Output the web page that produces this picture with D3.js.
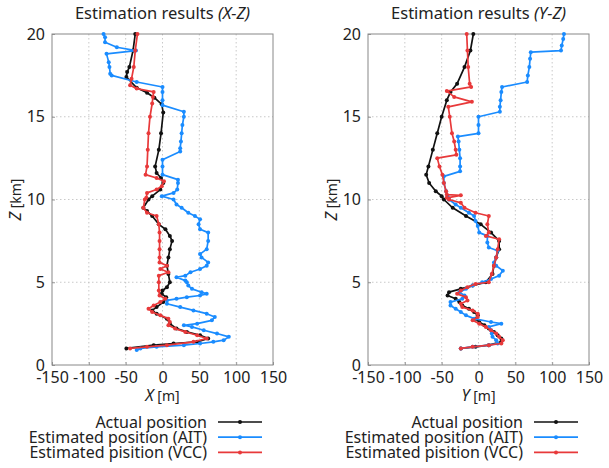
<!DOCTYPE html>
<html><head><meta charset="utf-8">
<script src="https://cdn.jsdelivr.net/npm/d3@7"></script>
<style>
html,body{margin:0;padding:0;background:#fff;}
svg{display:block;font-family:"Noto Sans",sans-serif;}
</style></head>
<body><svg id="c" width="609" height="468"></svg>
<script>
// ---- data: [Z km, horizontal position m] ----
const actualXZ = [[20,-37],[19,-40],[18,-45],[17.7,-48],[17.4,-49],[16.75,-35],[16.45,-21],[16.15,-11],[15.75,-1],[15.25,1],[14,-2],[13,-5],[12,-10],[11.6,-8],[11.3,-2],[11,1],[10.6,-3],[10.2,-14],[10,-19],[9.5,-26],[9.3,-21],[9,-14],[8.5,-5],[8.2,4],[7.8,10],[7.5,13],[7,10],[6.5,8],[6,6],[5.5,8],[5,10],[4.7,6],[4.5,0],[4.3,-1],[4.1,5],[3.8,1],[3.5,-8],[3.3,-14],[3.1,-8],[2.8,6],[2.5,10],[2.2,19],[2,33],[1.8,51],[1.6,62],[1.4,47],[1.3,15],[1.2,-12],[1,-49]];
const aitXZ = [[20,-80],[19.8,-78],[19.5,-78],[19.2,-62],[19,-36],[18.8,-76],[18.3,-73],[18,-72],[17.6,-71],[17.5,-69],[17.1,-35],[16.8,0],[16.5,0],[16,0],[15.7,0],[15.3,29],[15,29],[14.5,27],[14,26],[13.5,25],[13.1,24],[12.9,24],[12.4,0],[12,0],[11.5,0],[11.2,21],[11,21],[10.6,20],[10.4,15],[10.2,-1],[10,15],[9.7,19],[9.5,26],[9.2,35],[9,44],[8.8,51],[8.5,49],[8.2,51],[8,62],[7.5,62],[7,60],[6.7,51],[6.5,53],[6.2,62],[6,60],[5.8,51],[5.6,38],[5.4,31],[5.3,19],[5.1,31],[5,33],[4.8,35],[4.6,40],[4.4,53],[4.3,60],[4.2,51],[4.1,33],[4,19],[3.9,6],[3.7,6],[3.5,24],[3.3,42],[3.1,60],[2.9,71],[2.7,67],[2.5,47],[2.4,29],[2.3,40],[2.1,56],[1.9,74],[1.7,90],[1.5,83],[1.4,69],[1.3,51],[1.2,29],[1.1,-8],[1,-30],[0.9,-35]];
const vccXZ = [[20,-34],[19,-37],[18,-39],[17.3,-42],[16.9,-44],[16.7,-35],[16.5,-12],[16.2,-13],[15.8,-14],[15,-17],[14,-19],[13,-20],[12,-21],[11.5,-23],[11.3,-8],[11.1,2],[10.8,-1],[10.6,-8],[10.4,-21],[10.1,-22],[10,-24],[9.5,-26],[9.2,-21],[9,-8],[8.5,-5],[8,-4],[7.5,-4],[7,-4],[6.5,-4],[6.2,-4],[6,6],[5.8,-3],[5.6,8],[5.4,-5],[5,-5],[4.5,-5],[4.2,-4],[4,4],[3.8,-3],[3.6,-12],[3.4,-19],[3.2,-14],[3,-3],[2.8,8],[2.6,10],[2.4,8],[2.2,17],[2,31],[1.8,47],[1.6,60],[1.4,42],[1.2,6],[1.1,-21],[1,-44]];
const actualYZ = [[20,-7],[19,-11],[18,-19],[17,-29],[16.5,-38],[16,-43],[15,-50],[14,-56],[13,-62],[12,-68],[11.5,-71],[11,-67],[10.5,-58],[10.2,-50],[10,-47],[9.5,-35],[9,-17],[8.5,3],[8,17],[7.5,28],[7,28],[6.5,24],[6,21],[5.5,19],[5,10],[4.8,-8],[4.6,-24],[4.4,-40],[4.2,-42],[4,-31],[3.8,-26],[3.6,-22],[3.4,-13],[3.2,-6],[3,-1],[2.8,-4],[2.6,1],[2.4,8],[2.2,14],[2,21],[1.8,26],[1.6,31],[1.4,31],[1.2,14],[1.1,-4],[1,-24]];
const aitYZ = [[20,116],[19.7,115],[19.3,113],[19,112],[18.9,71],[18.5,70],[18,69],[17.5,67],[17.1,66],[16.8,32],[16.5,31],[16,30],[15.6,29],[15.3,29],[15,0],[14.5,0],[14,0],[13.8,-28],[13.5,-27],[13,-26],[12.5,-25],[12,-25],[11.7,-25],[11.4,-47],[11,-47],[10.5,-44],[10.2,-42],[10,-40],[9.7,-31],[9.5,-24],[9.2,-13],[9,-6],[8.7,-4],[8.4,-1],[8,1],[7.8,12],[7.4,12],[7.1,14],[6.9,26],[6.5,24],[6.2,21],[6,24],[5.7,33],[5.4,28],[5.2,17],[5,5],[4.8,-8],[4.6,-17],[4.4,-26],[4.2,-19],[4,-22],[3.8,-38],[3.6,-38],[3.4,-31],[3.2,-24],[3,-17],[2.8,-6],[2.6,17],[2.5,31],[2.3,14],[2.1,17],[1.9,18],[1.7,19],[1.5,24],[1.3,26],[1.2,14],[1.1,-8],[1,-24]];
const vccYZ = [[20,-16],[19,-15],[18,-14],[17,-12],[16.8,-10],[16.55,-43],[16.2,-33],[15.9,-9],[15.6,-41],[15,-39],[14,-36],[13.5,-33],[13,-31],[12.7,-30],[12.5,-56],[12,-53],[11.5,-49],[11,-47],[10.5,-44],[10.3,-43],[10.25,-24],[10.1,-43],[10,-40],[9.8,-24],[9.5,-19],[9.2,-4],[9,14],[8.5,12],[8,14],[7.8,10],[7.6,28],[7,26],[6.5,24],[6,21],[5.5,18],[5,14],[4.9,-4],[4.7,-15],[4.5,-24],[4.3,-29],[4.1,-17],[3.9,-15],[3.7,-24],[3.5,-22],[3.3,-8],[3.1,-1],[2.9,-1],[2.7,-8],[2.5,1],[2.3,10],[2.1,17],[1.9,24],[1.7,28],[1.5,33],[1.3,31],[1.2,14],[1.1,-8],[1,-24]];

const xTicks = [-150,-100,-50,0,50,100,150];
const zTicks = [0,5,10,15,20];
const legendLabels = ["Actual position","Estimated position (AIT)","Estimated pisition (VCC)"];
const seriesColors = ["#111111","#1a8cff","#e8393a"];

const panels = [
  {left:52, title:"Estimation results ", titleIt:"(X-Z)", axis:"X", series:[actualXZ,aitXZ,vccXZ]},
  {left:368, title:"Estimation results ", titleIt:"(Y-Z)", axis:"Y", series:[actualYZ,aitYZ,vccYZ]}
];

const svg = d3.select("#c");
const plotTop = 34, plotBottom = 365, pw = 221;
const FS = 16;

panels.forEach(p => {
  const x = d3.scaleLinear().domain([-150,150]).range([p.left, p.left+pw]);
  const y = d3.scaleLinear().domain([0,20]).range([plotBottom, plotTop]);
  const g = svg.append("g");

  // grid
  g.selectAll(".gx").data(xTicks.slice(1,-1)).join("line")
    .attr("x1",d=>x(d)).attr("x2",d=>x(d)).attr("y1",plotTop).attr("y2",plotBottom)
    .attr("stroke","#bbb").attr("stroke-width",0.8).attr("stroke-dasharray","1.5,2.5");
  g.selectAll(".gy").data(zTicks.slice(1,-1)).join("line")
    .attr("x1",p.left).attr("x2",p.left+pw).attr("y1",d=>y(d)).attr("y2",d=>y(d))
    .attr("stroke","#bbb").attr("stroke-width",0.8).attr("stroke-dasharray","1.5,2.5");

  // axes via d3
  const fmt = d => String(d);
  const ax = g.append("g").attr("transform",`translate(0,${plotBottom})`)
    .call(d3.axisBottom(x).tickValues(xTicks).tickFormat(fmt).tickSize(-3).tickPadding(8));
  const ay = g.append("g").attr("transform",`translate(${p.left},0)`)
    .call(d3.axisLeft(y).tickValues(zTicks).tickFormat(fmt).tickSize(-3).tickPadding(7));
  [ax,ay].forEach(a=>{
    a.select(".domain").remove();
    a.selectAll("line").attr("stroke","#999");
    a.selectAll("text").attr("font-size",FS).attr("fill","#222").attr("font-family","'Noto Sans',sans-serif");
  });
  ax.selectAll("text").attr("dy","0.6em");
  // frame
  g.append("rect").attr("x",p.left).attr("y",plotTop).attr("width",pw).attr("height",plotBottom-plotTop)
    .attr("fill","none").attr("stroke","#888").attr("stroke-width",1);

  // series
  const line = d3.line().x(d=>x(d[1])).y(d=>y(d[0]));
  p.series.forEach((s,i)=>{
    g.append("path").datum(s).attr("d",line).attr("fill","none")
      .attr("stroke",seriesColors[i]).attr("stroke-width",1.7).attr("stroke-linejoin","round");
    g.selectAll(null).data(s).join("circle").attr("cx",d=>x(d[1])).attr("cy",d=>y(d[0]))
      .attr("r",2).attr("fill",seriesColors[i]);
  });

  // title
  const cx = p.left + pw/2;
  const t = svg.append("text").attr("x",cx).attr("y",19).attr("text-anchor","middle")
    .attr("font-size",16.5).attr("fill","#222");
  t.append("tspan").text(p.title);
  t.append("tspan").attr("font-style","italic").text(p.titleIt);

  // x label
  const xl = svg.append("text").attr("x",cx).attr("y",401).attr("text-anchor","middle")
    .attr("font-size",FS).attr("fill","#222");
  xl.append("tspan").attr("font-style","italic").text(p.axis);
  xl.append("tspan").attr("font-size",14).text(" [m]");
  // y label
  const yl = svg.append("text").attr("transform",`translate(${p.left-31},${(plotTop+plotBottom)/2}) rotate(-90)`)
    .attr("text-anchor","middle").attr("font-size",FS).attr("fill","#222");
  yl.append("tspan").attr("font-style","italic").text("Z");
  yl.append("tspan").attr("font-size",14).text(" [km]");

  // legend
  const textEnd = p.left + 155, l0 = p.left + 166, l1 = p.left + 210;
  legendLabels.forEach((lab,i)=>{
    const ly = 422 + i*15.2;
    svg.append("text").attr("x",textEnd).attr("y",ly).attr("dy","0.35em").attr("text-anchor","end")
      .attr("font-size",16).attr("fill","#222").text(lab);
    svg.append("line").attr("x1",l0).attr("x2",l1).attr("y1",ly).attr("y2",ly)
      .attr("stroke",seriesColors[i]).attr("stroke-width",1.7);
    svg.append("circle").attr("cx",(l0+l1)/2).attr("cy",ly).attr("r",2).attr("fill",seriesColors[i]);
  });
});
</script></body></html>
